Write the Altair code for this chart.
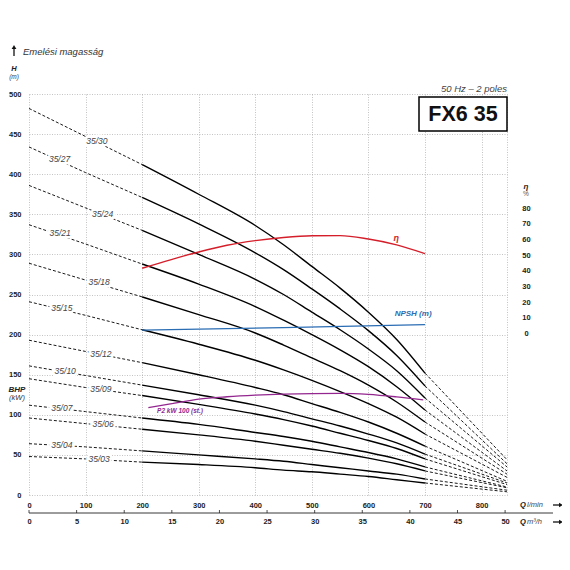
import altair as alt
import pandas as pd

# ---------------- data ----------------
Q_POINTS = [0, 100, 200, 300, 400, 450, 500, 550, 600, 650, 700, 845]  # l/min

H_35_30 = [482, 447, 412, 375, 336, 312, 285, 258, 228, 194, 152, 44]
H_35_27 = [434, 402, 371, 338, 302, 281, 257, 232, 205, 174, 136, 39]
H_35_24 = [386, 358, 330, 300, 269, 250, 228, 206, 182, 155, 121, 35]
H_35_21 = [337, 313, 288, 263, 235, 218, 200, 181, 160, 135, 106, 30]
H_35_18 = [289, 268, 247, 225, 202, 187, 171, 155, 137, 116, 91, 26]
H_35_15 = [241, 224, 206, 188, 168, 156, 143, 129, 114, 97, 76, 22]
H_35_12 = [193, 179, 165, 150, 134, 125, 114, 103, 91, 77, 61, 17]
H_35_10 = [161, 149, 137, 125, 112, 104, 95, 86, 76, 65, 51, 15]
H_35_09 = [145, 134, 124, 113, 101, 94, 86, 77, 68, 58, 45, 13]
H_35_07 = [112, 104, 96, 88, 78, 73, 67, 60, 53, 45, 35, 10]
H_35_06 = [96, 89, 82, 75, 67, 62, 57, 52, 46, 39, 30, 9]
H_35_04 = [64, 60, 55, 50, 45, 42, 38, 34, 30, 26, 20, 6]
H_35_03 = [48, 45, 41, 38, 34, 31, 29, 26, 23, 19, 15, 4]

MODELS = ["35/30", "35/27", "35/24", "35/21", "35/18", "35/15", "35/12",
          "35/10", "35/09", "35/07", "35/06", "35/04", "35/03"]
HEADS = [H_35_30, H_35_27, H_35_24, H_35_21, H_35_18, H_35_15, H_35_12,
         H_35_10, H_35_09, H_35_07, H_35_06, H_35_04, H_35_03]
LABEL_Q = [120, 54, 130, 55, 124, 58, 127, 64, 127, 58, 131, 58, 124]
LABEL_H = [441, 419, 350, 327, 266, 233, 176, 155, 132, 108, 88, 62, 45]

ETA_Q = [200, 250, 300, 350, 400, 450, 500, 550, 600, 650, 700]
ETA_PCT = [41.6, 47, 52, 56.3, 59.3, 61.3, 62.4, 62.5, 60.3, 56.6, 51]

NPSH_Q = [200, 450, 700]
NPSH_M = [205.7, 208.7, 212.4]

P2_Q = [211, 250, 300, 350, 400, 450, 500, 550, 600, 650, 697]
P2_VAL = [109, 113.5, 119.5, 122.5, 124.5, 125.8, 126.5, 126.8, 125.5, 122.3, 118.5]

LMIN_TICKS = [0, 100, 200, 300, 400, 500, 600, 700, 800]
M3H_TICKS = [0, 5, 10, 15, 20, 25, 30, 35, 40, 45, 50]
H_TICKS = [0, 50, 100, 150, 200, 250, 300, 350, 400, 450, 500]
ETA_TICKS = [0, 10, 20, 30, 40, 50, 60, 70, 80]

# ---------------- tables ----------------
solid_rows, dash_rows = [], []
for m, hs in zip(MODELS, HEADS):
    for i in range(2, 11):
        solid_rows.append({"Q": Q_POINTS[i], "H": hs[i], "model": m})
    for i in range(0, 3):
        dash_rows.append({"Q": Q_POINTS[i], "H": hs[i], "seg": m + "L"})
    for i in range(10, 12):
        dash_rows.append({"Q": Q_POINTS[i], "H": hs[i], "seg": m + "R"})
solid_df = pd.DataFrame(solid_rows)
dash_df = pd.DataFrame(dash_rows)
lab_df = pd.DataFrame({"Q": LABEL_Q, "H": LABEL_H, "t": MODELS})
eta_df = pd.DataFrame({"Q": ETA_Q, "eta": ETA_PCT})
npsh_df = pd.DataFrame({"Q": NPSH_Q, "H": NPSH_M})
p2_df = pd.DataFrame({"Q": P2_Q, "H": P2_VAL})
m3_df = pd.DataFrame({"m3": M3H_TICKS})

# ---------------- styling ----------------
W, HT = 478, 401
FONT = "Liberation Sans"
RED, BLUE, PURPLE = "#d41f2b", "#2a6db3", "#93278f"

xs = alt.Scale(domain=[0, 845], nice=False, zero=False)
ys = alt.Scale(domain=[0, 500], nice=False)
es = alt.Scale(domain=[-103.5, 153.1], nice=False, zero=False)
ms = alt.Scale(domain=[0, 50.2], nice=False)

GRID = dict(grid=True, gridDash=[1, 1.5], gridColor="#9a9a9a", gridWidth=0.6)
LAB = dict(labelFont=FONT, labelFontWeight="bold", labelFontSize=7.5,
           labelColor="#222", labelFlush=False, labelOverlap=False)

xaxis = alt.Axis(values=LMIN_TICKS + [845],
                 labelExpr="datum.value > 800 ? '' : datum.label",
                 domain=False, ticks=False, labelPadding=6, title=None,
                 **GRID, **LAB)
yaxis = alt.Axis(values=H_TICKS, domain=False, ticks=False, labelPadding=8,
                 title=None, **GRID, **LAB)
eta_axis = alt.Axis(orient="right", values=ETA_TICKS, domain=False, ticks=False,
                    grid=False, labelPadding=19, labelAlign="center",
                    title=None, **LAB)
m3_axis = alt.Axis(orient="bottom", offset=18, values=M3H_TICKS, domain=False,
                   ticks=False, grid=False, labelPadding=4, title=None, **LAB)


def X(f):
    return alt.X(f, type="quantitative", scale=xs, axis=xaxis)


def Y(f):
    return alt.Y(f, type="quantitative", scale=ys, axis=yaxis)


ONE = pd.DataFrame({"t": [""]})


def txt(text, x, y, **kw):
    return alt.Chart(pd.DataFrame({"t": [text]})).mark_text(font=FONT, **kw).encode(
        x=alt.value(x), y=alt.value(y), text="t:N")


# ---------------- layers ----------------
solid = alt.Chart(solid_df).mark_line(color="black", strokeWidth=1.4,
                                      interpolate="monotone").encode(
    x=X("Q"), y=Y("H"), detail="model:N")
dashed = alt.Chart(dash_df).mark_line(color="black", strokeWidth=0.9,
                                      strokeDash=[3, 2]).encode(
    x=X("Q"), y=Y("H"), detail="seg:N")
halo = alt.Chart(lab_df).mark_text(font=FONT, fontStyle="italic", fontSize=8.5,
                                   color="white", stroke="white", strokeWidth=5).encode(
    x=X("Q"), y=Y("H"), text="t:N")
labels = alt.Chart(lab_df).mark_text(font=FONT, fontStyle="italic", fontSize=8.5,
                                     color="#444").encode(
    x=X("Q"), y=Y("H"), text="t:N")

npsh = alt.Chart(npsh_df).mark_line(color=BLUE, strokeWidth=1.3).encode(
    x=X("Q"), y=Y("H"))
p2 = alt.Chart(p2_df).mark_line(color=PURPLE, strokeWidth=1.3,
                                interpolate="monotone").encode(x=X("Q"), y=Y("H"))

npsh_lab = alt.Chart(pd.DataFrame({"Q": [679], "H": [226], "t": ["NPSH (m)"]})).mark_text(
    font=FONT, fontStyle="italic", fontWeight="bold", fontSize=8, color=BLUE).encode(
    x=X("Q"), y=Y("H"), text="t:N")
p2_lab = alt.Chart(pd.DataFrame({"Q": [267], "H": [104.5], "t": ["P2 kW 100 (st.)"]})).mark_text(
    font=FONT, fontStyle="italic", fontWeight="bold", fontSize=6.5, color=PURPLE).encode(
    x=X("Q"), y=Y("H"), text="t:N")
eta_lab = alt.Chart(pd.DataFrame({"Q": [649], "H": [321], "t": ["η"]})).mark_text(
    font=FONT, fontStyle="italic", fontWeight="bold", fontSize=9, color=RED).encode(
    x=X("Q"), y=Y("H"), text="t:N")

# annotations outside the plot
up_stem = alt.Chart(ONE).mark_rule(color="#111", strokeWidth=1.3).encode(
    x=alt.value(-15), y=alt.value(-46), y2=alt.value(-38))
up_head = alt.Chart(ONE).mark_point(shape="triangle-up", filled=True, size=22,
                                    color="#111", opacity=1).encode(
    x=alt.value(-15), y=alt.value(-47))
t_title = txt("Emelési magasság", -6, -42, fontStyle="italic", fontSize=9.5,
              color="#333", align="left", baseline="middle")
t_H = txt("H", -15, -25, fontStyle="italic", fontWeight="bold", fontSize=7.5,
          color="#222", baseline="middle")
t_m = txt("(m)", -15, -17, fontStyle="italic", fontSize=6.5, color="#333",
          baseline="middle")
t_bhp = txt("BHP", -12, 296, fontStyle="italic", fontWeight="bold", fontSize=8,
            color="#222", baseline="middle")
t_kw = txt("(kW)", -12, 303.5, fontStyle="italic", fontSize=7.5, color="#333",
           baseline="middle")
t_hz = txt("50 Hz – 2 poles", 478, -5, fontStyle="italic", fontSize=9.5,
           color="#444", align="right", baseline="middle")
box = alt.Chart(ONE).mark_rect(fill="white", stroke="black", strokeWidth=1.5).encode(
    x=alt.value(390), x2=alt.value(478), y=alt.value(3), y2=alt.value(37))
t_model = txt("FX6 35", 434, 21, fontWeight="bold", fontSize=21.5, color="#111",
              baseline="middle")
t_eta = txt("η", 497, 93, fontStyle="italic", fontWeight="bold", fontSize=8,
            color="#222", baseline="middle")
t_pct = txt("%", 497, 100, fontSize=6.5, color="#555", baseline="middle")
t_q1 = txt("Q", 491, 411, fontStyle="italic", fontWeight="bold", fontSize=7.5,
           color="#222", align="left", baseline="middle")
t_q1u = txt("l/min", 498, 411, fontStyle="italic", fontSize=7.5, color="#444",
            align="left", baseline="middle")
t_q2 = txt("Q", 491, 428, fontStyle="italic", fontWeight="bold", fontSize=7.5,
           color="#222", align="left", baseline="middle")
t_q2u = txt("m³/h", 498, 428, fontStyle="italic", fontSize=7.5, color="#444",
            align="left", baseline="middle")
arr1 = alt.Chart(ONE).mark_rule(color="#111", strokeWidth=1.3).encode(
    x=alt.value(524), x2=alt.value(531), y=alt.value(411))
arr1h = alt.Chart(ONE).mark_point(shape="triangle-right", filled=True, size=20,
                                  color="#111", opacity=1).encode(
    x=alt.value(532), y=alt.value(411))
arr2 = alt.Chart(ONE).mark_rule(color="#111", strokeWidth=1.3).encode(
    x=alt.value(524), x2=alt.value(531), y=alt.value(428))
arr2h = alt.Chart(ONE).mark_point(shape="triangle-right", filled=True, size=20,
                                  color="#111", opacity=1).encode(
    x=alt.value(532), y=alt.value(428))

base = alt.layer(
    solid, dashed, halo, labels, npsh, p2, npsh_lab, p2_lab, eta_lab,
    up_stem, up_head, t_title, t_H, t_m, t_bhp, t_kw, t_hz, box, t_model,
    t_eta, t_pct, t_q1, t_q1u, t_q2, t_q2u, arr1, arr1h, arr2, arr2h,
)

eta_chart = alt.Chart(eta_df).mark_line(color=RED, strokeWidth=1.4,
                                        interpolate="monotone").encode(
    x=alt.X("Q:Q", scale=xs, axis=None),
    y=alt.Y("eta:Q", scale=es, axis=eta_axis))

m3_ticks = alt.Chart(m3_df).mark_rule(color="#222", strokeWidth=0.8).encode(
    x=alt.X("m3:Q", scale=ms, axis=m3_axis),
    y=alt.value(HT + 15), y2=alt.value(HT + 18))
m3_line = alt.Chart(ONE).mark_rule(color="#222", strokeWidth=0.9).encode(
    x=alt.value(0), x2=alt.value(524), y=alt.value(HT + 18))
m3_layer = alt.layer(m3_ticks, m3_line)

chart = alt.layer(base, eta_chart, m3_layer).resolve_scale(
    x="independent", y="independent"
).properties(
    width=W, height=HT,
    autosize=alt.AutoSizeParams(type="none"),
    padding={"left": 21, "top": 86, "right": 55, "bottom": 50},
    background="white",
).configure_view(strokeWidth=0)

chart.save("out.html", embed_options={"renderer": "svg", "actions": False})
